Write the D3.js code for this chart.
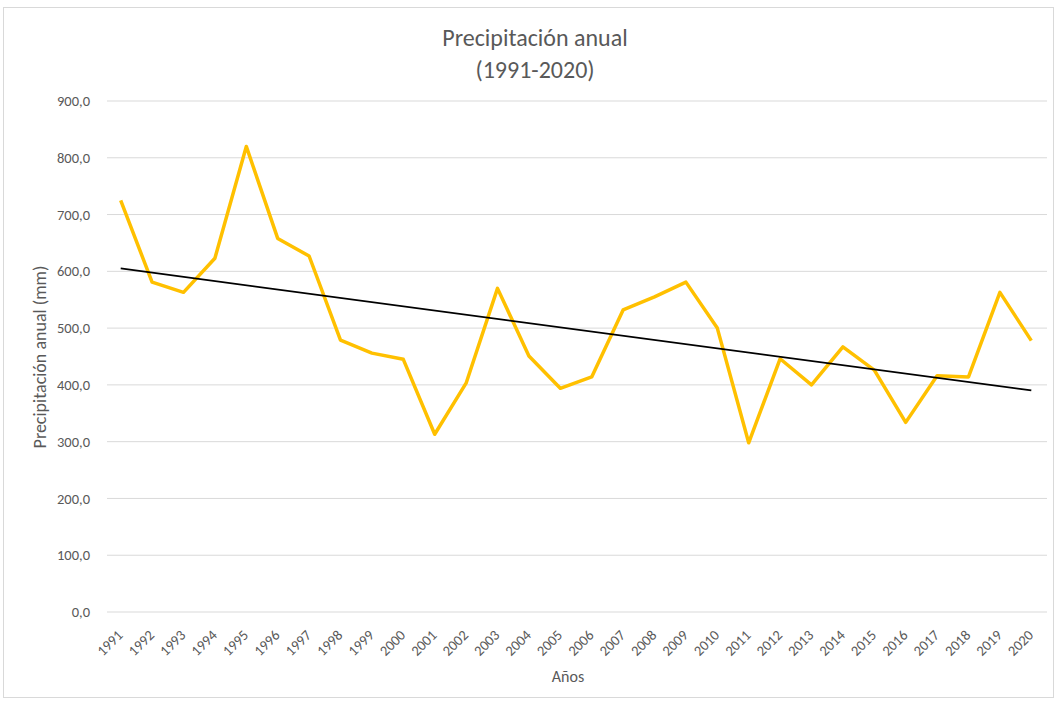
<!DOCTYPE html>
<html>
<head>
<meta charset="utf-8">
<script src="https://cdn.jsdelivr.net/npm/d3@7"></script>
<style>
  body { margin: 0; background: #fff; }
  svg text { font-family: Carlito, Lato, "Open Sans", sans-serif; fill: #595959; }
</style>
</head>
<body>
<svg id="chart" width="1057" height="702"></svg>
<script>
// data
const years = [1991, 1992, 1993, 1994, 1995, 1996, 1997, 1998, 1999, 2000,
  2001, 2002, 2003, 2004, 2005, 2006, 2007, 2008, 2009, 2010,
  2011, 2012, 2013, 2014, 2015, 2016, 2017, 2018, 2019, 2020];
const precip = [725, 581, 563, 623, 820, 658, 627, 479, 456, 445,
  313, 403, 570, 451, 394, 414, 532, 555, 581, 500,
  298, 446, 400, 467, 426, 334, 416, 414, 563, 478];
const yTicks = [0, 100, 200, 300, 400, 500, 600, 700, 800, 900];

const svg = d3.select('#chart');
const margin = { top: 101, right: 10, bottom: 90, left: 105 };
const width = 1047 - margin.left;
const height = 612 - margin.top;

// chart border
svg.append('rect')
  .attr('x', 3.5).attr('y', 7.5)
  .attr('width', 1050).attr('height', 690)
  .attr('fill', 'none').attr('stroke', '#d9d9d9');

const g = svg.append('g').attr('transform', `translate(${margin.left},${margin.top})`);

const x = d3.scaleBand().domain(years).range([0, width]);
const y = d3.scaleLinear().domain([0, 900]).range([height, 0]);

// gridlines
g.selectAll('.grid')
  .data(yTicks)
  .enter()
  .append('line')
  .attr('x1', 2).attr('x2', width)
  .attr('y1', d => y(d)).attr('y2', d => y(d))
  .attr('stroke', '#d9d9d9').attr('stroke-width', 1);

// y axis labels
const yAxis = d3.axisLeft(y).tickValues(yTicks).tickSize(0).tickPadding(15)
  .tickFormat(d => d3.format('.1f')(d).replace('.', ','));
g.append('g').call(yAxis)
  .call(s => s.select('.domain').remove())
  .selectAll('text').style('font-size', '14.5px').style('fill', '#595959');

// x axis labels, rotated
const xAxis = d3.axisBottom(x).tickSize(0).tickPadding(0);
g.append('g').attr('transform', `translate(0,${height})`).call(xAxis)
  .call(s => s.select('.domain').remove())
  .selectAll('text')
  .style('font-size', '14.5px')
  .style('fill', '#595959')
  .attr('text-anchor', 'end')
  .attr('dy', null).attr('y', 0)
  .attr('transform', 'translate(3,24) rotate(-45)');

// data line
const cx = d => x(d) + x.bandwidth() / 2;
const line = d3.line().x((d, i) => cx(years[i])).y(d => y(d));
g.append('path').datum(precip)
  .attr('d', line)
  .attr('fill', 'none')
  .attr('stroke', '#ffc000')
  .attr('stroke-width', 3.5)
  .attr('stroke-linejoin', 'round');

// linear trend (least squares over the series)
const n = precip.length;
const idx = d3.range(1, n + 1);
const mx = d3.mean(idx), my = d3.mean(precip);
const slope = d3.sum(idx, (t, i) => (t - mx) * (precip[i] - my)) / d3.sum(idx, t => (t - mx) ** 2);
const icpt = my - slope * mx;
g.append('line')
  .attr('x1', cx(years[0])).attr('y1', y(icpt + slope * 1))
  .attr('x2', cx(years[n - 1])).attr('y2', y(icpt + slope * n))
  .attr('stroke', '#000').attr('stroke-width', 1.8);

// title
svg.append('text').attr('x', 535).attr('y', 46)
  .attr('text-anchor', 'middle').style('font-size', '24px')
  .text('Precipitación anual');
svg.append('text').attr('x', 535).attr('y', 78)
  .attr('text-anchor', 'middle').style('font-size', '24px')
  .text('(1991-2020)');

// axis titles
svg.append('text').attr('x', 568).attr('y', 682)
  .attr('text-anchor', 'middle').style('font-size', '16px')
  .text('Años');
svg.append('text')
  .attr('transform', 'translate(46,357) rotate(-90)')
  .attr('text-anchor', 'middle').style('font-size', '18px')
  .text('Precipitación anual (mm)');
</script>
</body>
</html>
